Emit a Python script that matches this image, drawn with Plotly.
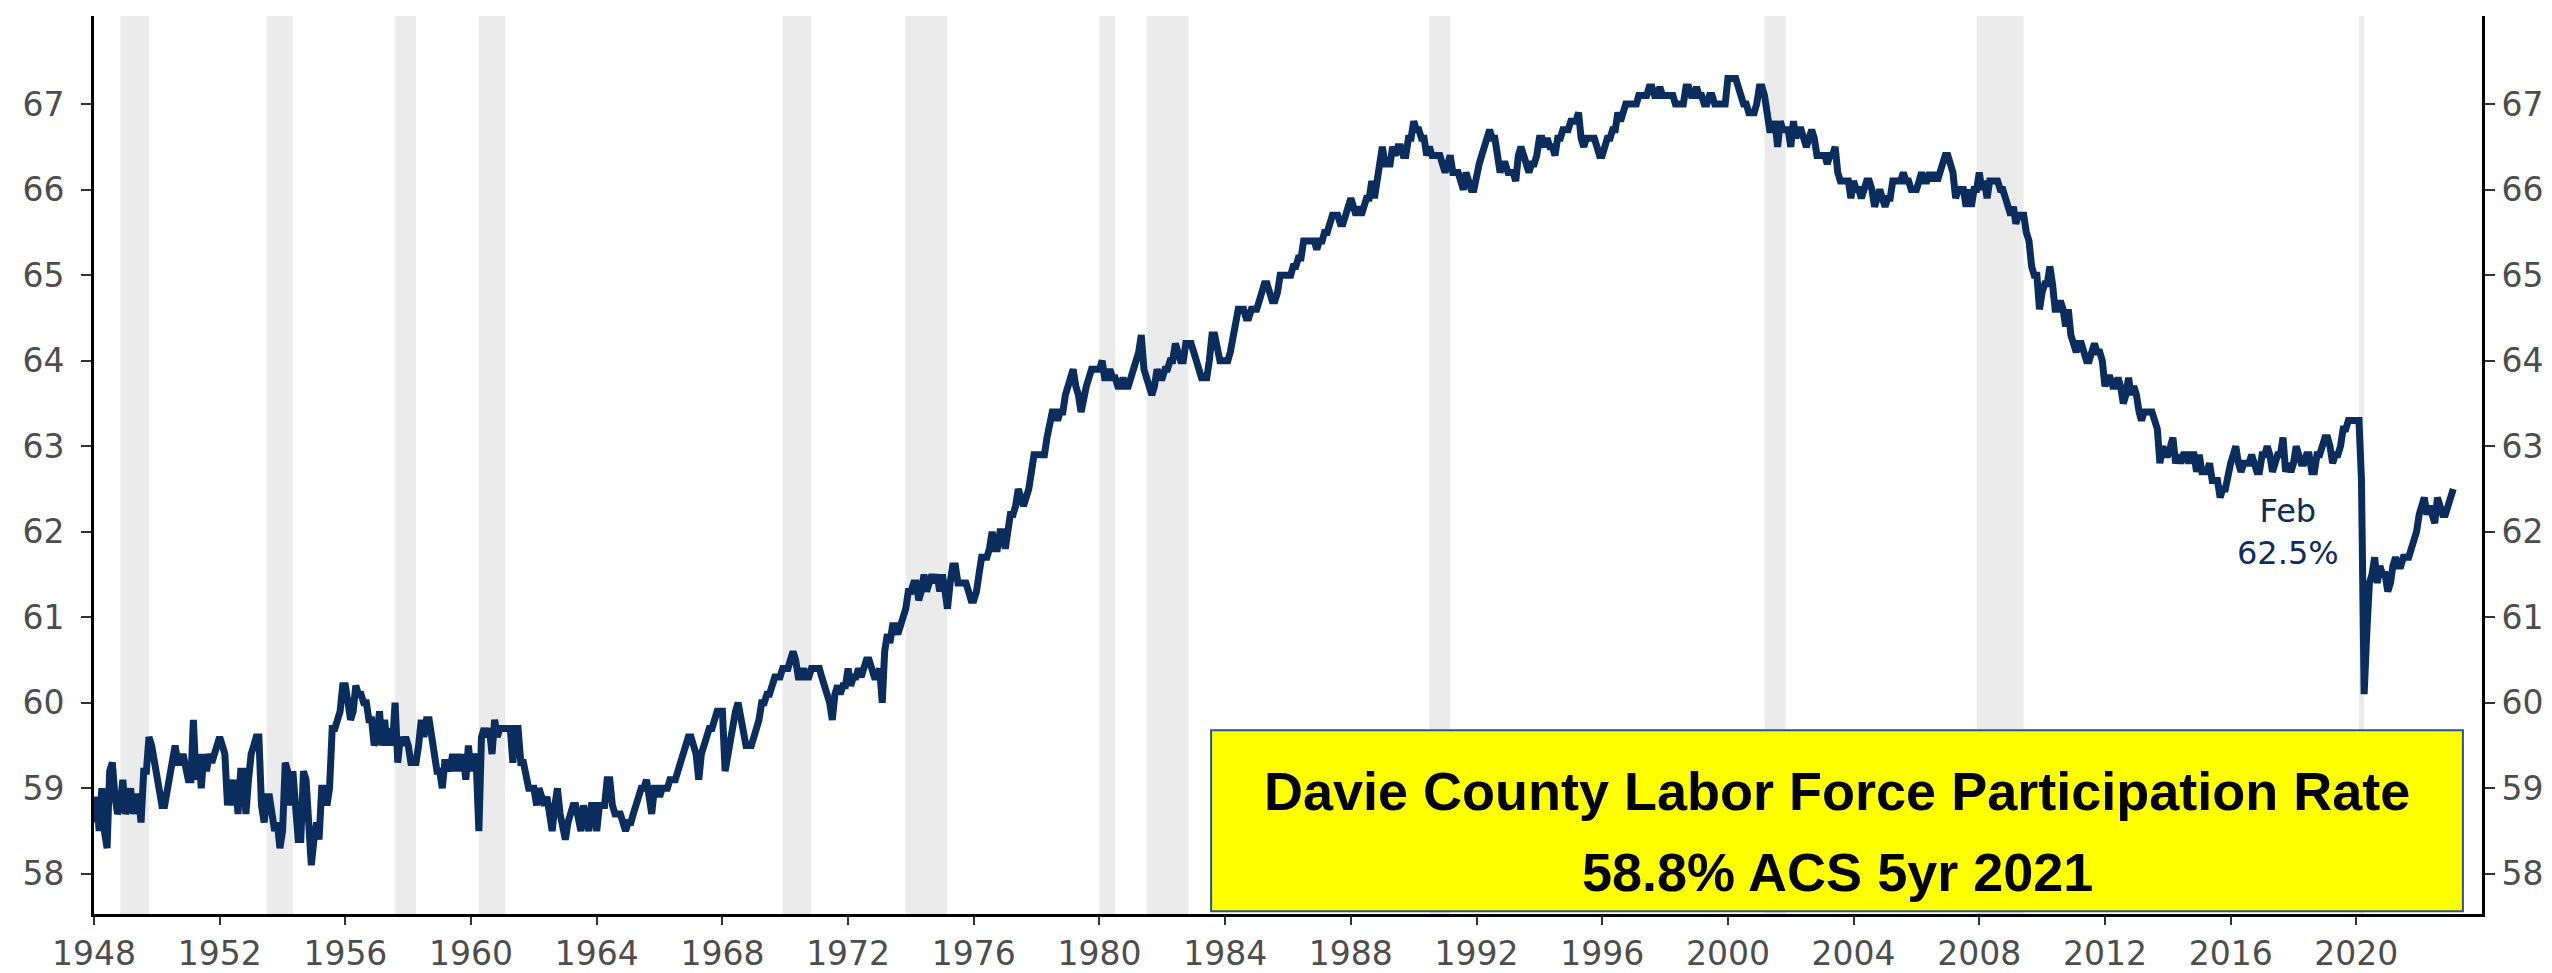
import pandas as pd
import plotly.graph_objects as go

# monthly civilian labor force participation rate (one row per year)
lfpr_1948_1959 = [
    58.6, 58.9, 58.5, 59.0, 58.5, 58.3, 59.2, 59.3, 58.9, 58.7, 58.8, 59.1,  # 1948
    58.7, 58.8, 59.0, 58.7, 58.9, 58.9, 58.6, 59.2, 59.2, 59.6, 59.5, 59.3,  # 1949
    59.2, 59.0, 58.8, 58.8, 59.0, 59.2, 59.4, 59.5, 59.3, 59.3, 59.4, 59.2,  # 1950
    59.1, 59.1, 59.8, 59.1, 59.4, 59.0, 59.4, 59.2, 59.4, 59.3, 59.4, 59.5,  # 1951
    59.6, 59.5, 59.4, 58.8, 59.1, 58.8, 59.1, 58.7, 59.2, 59.2, 58.7, 59.1,  # 1952
    59.4, 59.5, 59.6, 59.6, 58.8, 58.6, 58.9, 58.9, 58.6, 58.5, 58.6, 58.3,  # 1953
    58.5, 59.3, 59.2, 58.8, 59.2, 58.6, 58.4, 58.4, 59.2, 59.1, 58.6, 58.1,  # 1954
    58.4, 58.6, 58.4, 59.0, 59.0, 58.8, 59.0, 59.7, 59.7, 59.8, 59.9, 60.2,  # 1955
    60.2, 60.0, 59.8, 59.9, 60.2, 60.1, 60.1, 60.0, 60.0, 59.8, 59.8, 59.5,  # 1956
    59.6, 59.9, 59.5, 59.8, 59.5, 59.7, 59.5, 60.0, 59.3, 59.6, 59.5, 59.6,  # 1957
    59.5, 59.3, 59.3, 59.3, 59.5, 59.8, 59.6, 59.8, 59.8, 59.6, 59.4, 59.2,  # 1958
    59.2, 59.0, 59.3, 59.3, 59.2, 59.4, 59.2, 59.4, 59.2, 59.4, 59.1, 59.5,  # 1959
]
lfpr_1960s = [
    59.2, 59.4, 59.3, 58.5, 59.6, 59.7, 59.6, 59.7, 59.4, 59.8, 59.6, 59.7,  # 1960
    59.7, 59.7, 59.7, 59.7, 59.3, 59.7, 59.7, 59.3, 59.3, 59.1, 59.0, 59.0,  # 1961
    59.0, 58.8, 59.0, 58.9, 58.8, 58.9, 58.7, 58.5, 58.8, 59.0, 58.7, 58.5,  # 1962
    58.4, 58.6, 58.7, 58.8, 58.8, 58.6, 58.5, 58.8, 58.6, 58.5, 58.8, 58.8,  # 1963
    58.5, 58.8, 58.8, 58.8, 59.1, 59.1, 58.8, 58.7, 58.7, 58.7, 58.6, 58.5,  # 1964
    58.6, 58.6, 58.7, 58.8, 58.9, 59.0, 59.0, 59.1, 58.9, 58.7, 59.0, 59.0,  # 1965
    58.9, 59.0, 59.0, 59.0, 59.1, 59.1, 59.1, 59.2, 59.3, 59.4, 59.5, 59.6,  # 1966
    59.6, 59.5, 59.4, 59.1, 59.4, 59.5, 59.6, 59.7, 59.7, 59.8, 59.9, 59.9,  # 1967
    59.9, 59.2, 59.4, 59.6, 59.8, 59.9, 60.0, 59.8, 59.6, 59.5, 59.5, 59.5,  # 1968
    59.6, 59.7, 59.8, 60.0, 60.0, 60.1, 60.1, 60.2, 60.3, 60.3, 60.3, 60.4,  # 1969
]
lfpr_1970s = [
    60.4, 60.4, 60.5, 60.6, 60.5, 60.3, 60.3, 60.4, 60.3, 60.3, 60.4, 60.4,  # 1970
    60.4, 60.4, 60.3, 60.2, 60.1, 60.0, 59.8, 60.1, 60.2, 60.1, 60.2, 60.2,  # 1971
    60.4, 60.2, 60.3, 60.3, 60.4, 60.3, 60.4, 60.5, 60.5, 60.4, 60.3, 60.3,  # 1972
    60.4, 60.0, 60.6, 60.8, 60.7, 60.9, 60.9, 60.8, 60.9, 61.0, 61.1, 61.3,  # 1973
    61.3, 61.4, 61.4, 61.2, 61.3, 61.5, 61.3, 61.4, 61.5, 61.4, 61.5, 61.3,  # 1974
    61.5, 61.3, 61.1, 61.4, 61.6, 61.6, 61.4, 61.4, 61.4, 61.4, 61.3, 61.2,  # 1975
    61.2, 61.3, 61.5, 61.7, 61.7, 61.7, 61.8, 62.0, 61.8, 61.8, 62.0, 62.0,  # 1976
    61.8, 62.0, 62.2, 62.2, 62.3, 62.5, 62.4, 62.3, 62.4, 62.5, 62.7, 62.9,  # 1977
    62.9, 62.9, 62.9, 62.9, 63.1, 63.3, 63.4, 63.4, 63.3, 63.4, 63.4, 63.6,  # 1978
    63.7, 63.8, 63.9, 63.7, 63.6, 63.4, 63.6, 63.7, 63.8, 63.9, 63.9, 63.9,  # 1979
]
lfpr_1980s = [
    63.9, 64.0, 63.8, 63.8, 63.9, 63.8, 63.8, 63.7, 63.7, 63.8, 63.7, 63.7,  # 1980
    63.8, 63.9, 64.0, 64.1, 64.3, 63.9, 63.8, 63.7, 63.6, 63.7, 63.9, 63.8,  # 1981
    63.8, 63.9, 63.9, 64.0, 64.0, 64.2, 64.1, 64.0, 64.0, 64.2, 64.2, 64.2,  # 1982
    64.1, 64.0, 63.9, 63.8, 63.8, 63.8, 64.0, 64.3, 64.3, 64.1, 64.0, 64.0,  # 1983
    64.0, 64.0, 64.1, 64.3, 64.4, 64.6, 64.6, 64.6, 64.5, 64.5, 64.6, 64.6,  # 1984
    64.6, 64.7, 64.8, 64.9, 64.9, 64.8, 64.7, 64.7, 64.8, 65.0, 65.0, 65.0,  # 1985
    65.0, 65.0, 65.1, 65.1, 65.2, 65.2, 65.4, 65.4, 65.4, 65.4, 65.4, 65.3,  # 1986
    65.4, 65.4, 65.5, 65.5, 65.6, 65.7, 65.7, 65.7, 65.6, 65.6, 65.7, 65.8,  # 1987
    65.9, 65.8, 65.7, 65.8, 65.7, 65.8, 65.9, 65.9, 66.1, 65.9, 66.1, 66.2,  # 1988
    66.5, 66.3, 66.3, 66.3, 66.5, 66.4, 66.5, 66.5, 66.4, 66.4, 66.6, 66.6,  # 1989
]
lfpr_1990s = [
    66.8, 66.7, 66.7, 66.6, 66.6, 66.4, 66.5, 66.4, 66.4, 66.4, 66.4, 66.3,  # 1990
    66.2, 66.3, 66.4, 66.2, 66.2, 66.2, 66.1, 66.0, 66.2, 66.1, 66.0, 66.0,  # 1991
    66.2, 66.3, 66.4, 66.5, 66.6, 66.7, 66.6, 66.6, 66.4, 66.2, 66.3, 66.3,  # 1992
    66.2, 66.2, 66.2, 66.1, 66.4, 66.5, 66.4, 66.3, 66.2, 66.3, 66.3, 66.4,  # 1993
    66.6, 66.6, 66.5, 66.6, 66.5, 66.5, 66.4, 66.6, 66.6, 66.7, 66.7, 66.7,  # 1994
    66.8, 66.8, 66.8, 66.9, 66.6, 66.5, 66.6, 66.6, 66.6, 66.6, 66.5, 66.4,  # 1995
    66.4, 66.5, 66.6, 66.6, 66.7, 66.7, 66.9, 66.8, 66.9, 67.0, 67.0, 67.0,  # 1996
    67.0, 67.0, 67.1, 67.1, 67.1, 67.1, 67.2, 67.2, 67.1, 67.1, 67.2, 67.1,  # 1997
    67.1, 67.1, 67.1, 67.1, 67.0, 67.0, 67.0, 67.0, 67.2, 67.2, 67.1, 67.1,  # 1998
    67.2, 67.1, 67.1, 67.0, 67.0, 67.1, 67.1, 67.0, 67.0, 67.0, 67.0, 67.0,  # 1999
]
lfpr_2000s = [
    67.3, 67.3, 67.3, 67.3, 67.2, 67.1, 67.0, 67.0, 66.9, 66.9, 66.9, 67.0,  # 2000
    67.2, 67.2, 67.1, 66.9, 66.7, 66.7, 66.8, 66.5, 66.8, 66.7, 66.7, 66.7,  # 2001
    66.5, 66.8, 66.6, 66.7, 66.7, 66.6, 66.5, 66.6, 66.7, 66.6, 66.4, 66.4,  # 2002
    66.4, 66.4, 66.3, 66.4, 66.4, 66.5, 66.2, 66.1, 66.1, 66.1, 66.1, 65.9,  # 2003
    66.1, 66.0, 66.0, 65.9, 66.0, 66.1, 66.1, 66.0, 65.8, 65.9, 66.0, 65.9,  # 2004
    65.8, 65.9, 65.9, 66.1, 66.1, 66.1, 66.1, 66.2, 66.1, 66.1, 66.0, 66.0,  # 2005
    66.0, 66.1, 66.2, 66.1, 66.1, 66.2, 66.1, 66.2, 66.1, 66.2, 66.3, 66.4,  # 2006
    66.4, 66.3, 66.2, 65.9, 66.0, 66.0, 66.0, 65.8, 66.0, 65.8, 66.0, 66.0,  # 2007
    66.2, 66.0, 66.1, 65.9, 66.1, 66.1, 66.1, 66.1, 66.0, 66.0, 65.9, 65.8,  # 2008
    65.7, 65.8, 65.6, 65.7, 65.7, 65.7, 65.5, 65.4, 65.1, 65.0, 65.0, 64.6,  # 2009
]
lfpr_2010s = [
    64.8, 64.9, 64.9, 65.1, 64.9, 64.6, 64.6, 64.7, 64.6, 64.4, 64.6, 64.3,  # 2010
    64.2, 64.1, 64.2, 64.2, 64.1, 64.0, 64.0, 64.1, 64.2, 64.1, 64.1, 64.0,  # 2011
    63.7, 63.8, 63.8, 63.7, 63.7, 63.8, 63.7, 63.5, 63.6, 63.8, 63.6, 63.7,  # 2012
    63.6, 63.4, 63.3, 63.4, 63.4, 63.4, 63.4, 63.3, 63.2, 62.8, 63.0, 62.9,  # 2013
    62.9, 63.0, 63.1, 62.8, 62.9, 62.8, 62.9, 62.9, 62.8, 62.9, 62.9, 62.7,  # 2014
    62.9, 62.7, 62.7, 62.7, 62.8, 62.6, 62.6, 62.6, 62.4, 62.5, 62.5, 62.7,  # 2015
    62.8, 62.9, 63.0, 62.8, 62.7, 62.8, 62.8, 62.8, 62.9, 62.8, 62.7, 62.7,  # 2016
    62.9, 62.9, 63.0, 62.9, 62.7, 62.8, 62.9, 62.9, 63.1, 62.7, 62.8, 62.7,  # 2017
    62.8, 63.0, 62.9, 62.8, 62.8, 62.9, 62.9, 62.7, 62.7, 62.9, 62.9, 63.0,  # 2018
    63.1, 63.1, 63.0, 62.8, 62.9, 62.9, 63.0, 63.2, 63.2, 63.3, 63.3, 63.3,  # 2019
]
lfpr_2020s = [
    63.3, 63.3, 62.6, 60.1, 60.8, 61.4, 61.5, 61.7, 61.4, 61.6, 61.5, 61.5,  # 2020
    61.3, 61.4, 61.6, 61.7, 61.6, 61.6, 61.7, 61.7, 61.7, 61.8, 61.9, 62.0,  # 2021
    62.2, 62.3, 62.4, 62.2, 62.3, 62.2, 62.1, 62.4, 62.3, 62.2, 62.2, 62.3,  # 2022
    62.4, 62.5,                                                              # 2023
]

# NBER recessions (shaded)
rec_start = ["1948-11-01", "1953-07-01", "1957-08-01", "1960-04-01", "1969-12-01", "1973-11-01",
             "1980-01-01", "1981-07-01", "1990-07-01", "2001-03-01", "2007-12-01", "2020-02-01"]
rec_end = ["1949-10-01", "1954-05-01", "1958-04-01", "1961-02-01", "1970-11-01", "1975-03-01",
           "1980-07-01", "1982-11-01", "1991-03-01", "2001-11-01", "2009-06-01", "2020-04-01"]

x_tick_years = [1948, 1952, 1956, 1960, 1964, 1968, 1972, 1976, 1980, 1984, 1988,
                1992, 1996, 2000, 2004, 2008, 2012, 2016, 2020]
y_ticks = [58, 59, 60, 61, 62, 63, 64, 65, 66, 67]

box_line1 = "Davie County Labor Force Participation Rate"
box_line2 = "58.8% ACS 5yr 2021"
last_label = "Feb<br>62.5%"

lfpr = (lfpr_1948_1959 + lfpr_1960s + lfpr_1970s + lfpr_1980s
        + lfpr_1990s + lfpr_2000s + lfpr_2010s + lfpr_2020s)
dates = pd.date_range("1948-01-01", periods=len(lfpr), freq="MS")

NAVY = "#0b2d5e"
tickfont = dict(family="DejaVu Sans", size=33, color="#4d4d4d")

fig = go.Figure()

for s, e in zip(rec_start, rec_end):
    fig.add_vrect(x0=s, x1=e, fillcolor="#ebebeb", opacity=1, line_width=0, layer="below")

fig.add_trace(go.Scatter(x=dates, y=lfpr, mode="lines",
                         line=dict(color=NAVY, width=7), showlegend=False))
# same series on the right axis (invisible) so the mirrored axis gets drawn
fig.add_trace(go.Scatter(x=dates, y=lfpr, mode="lines", yaxis="y2",
                         line=dict(color="rgba(0,0,0,0)", width=1),
                         hoverinfo="skip", showlegend=False))

yax = dict(range=[57.53, 68.03], tickvals=y_ticks, showgrid=False, zeroline=False,
           showline=True, linecolor="black", linewidth=3,
           ticks="outside", ticklen=10, tickwidth=2, tickcolor="#333333",
           tickfont=tickfont)

fig.update_layout(
    width=2552, height=973,
    margin=dict(l=86, r=78, t=8, b=41),
    plot_bgcolor="white", paper_bgcolor="white",
    xaxis=dict(type="date", range=["1948-01-01", "2024-01-01"],
               tickvals=[f"{y}-01-01" for y in x_tick_years],
               ticktext=[str(y) for y in x_tick_years],
               showgrid=False, zeroline=False, showline=True, linecolor="black", linewidth=3,
               ticks="outside", ticklen=8, tickwidth=2, tickcolor="#333333",
               tickfont=tickfont),
    yaxis=dict(side="left", ticklabelstandoff=10, **yax),
    yaxis2=dict(side="right", overlaying="y", **yax),
)

# yellow callout box
fig.add_shape(type="rect", xref="paper", yref="paper",
              x0=0.4678, x1=0.9920, y0=0.0032, y1=0.2045,
              fillcolor="#ffff00", line=dict(color="#2f528f", width=2), layer="above")
fig.add_annotation(xref="paper", yref="paper", x=0.7299, y=0.137,
                   xanchor="center", yanchor="middle", showarrow=False,
                   text="<b>" + box_line1 + "</b>",
                   font=dict(family="Liberation Sans", size=54, color="black"))
fig.add_annotation(xref="paper", yref="paper", x=0.7299, y=0.047,
                   xanchor="center", yanchor="middle", showarrow=False,
                   text="<b>" + box_line2 + "</b>",
                   font=dict(family="Liberation Sans", size=54, color="black"))

fig.add_annotation(x="2017-11-01", y=62.0, xanchor="center", yanchor="middle",
                   showarrow=False, text=last_label,
                   font=dict(family="DejaVu Sans", size=32, color=NAVY))

fig.write_html("out.html")
